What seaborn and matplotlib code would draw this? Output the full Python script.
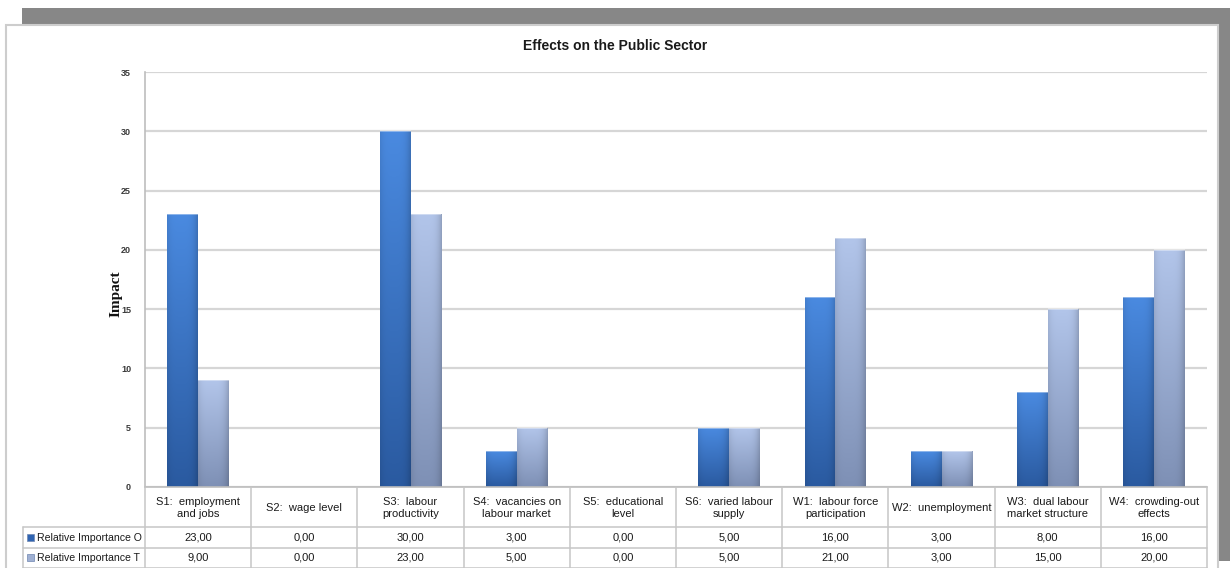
import numpy as np
import pandas as pd
import matplotlib
matplotlib.use("Agg")
import matplotlib.pyplot as plt
from matplotlib.patches import Rectangle
from matplotlib.colors import to_rgb
import seaborn as sns

# ---------------- data ----------------
categories = ["S1", "S2", "S3", "S4", "S5", "S6", "W1", "W2", "W3", "W4"]
category_labels = [
    "S1:  employment\nand jobs",
    "S2:  wage level",
    "S3:  labour\nproductivity",
    "S4:  vacancies on\nlabour market",
    "S5:  educational\nlevel",
    "S6:  varied labour\nsupply",
    "W1:  labour force\nparticipation",
    "W2:  unemployment",
    "W3:  dual labour\nmarket structure",
    "W4:  crowding-out\neffects",
]
series_names = ["Relative Importance O", "Relative Importance T"]
importance_o = [23, 0, 30, 3, 0, 5, 16, 3, 8, 16]
importance_t = [9, 0, 23, 5, 0, 5, 21, 3, 15, 20]
y_ticks = [0, 5, 10, 15, 20, 25, 30, 35]
title = "Effects on the Public Sector"
y_label = "Impact"

df = pd.DataFrame({
    "category": categories * 2,
    "series": [series_names[0]] * len(categories) + [series_names[1]] * len(categories),
    "value": importance_o + importance_t,
})

# ---------------- style ----------------
sns.set_theme(style="white")
FONT = ["Liberation Sans Narrow", "Liberation Sans", "DejaVu Sans"]
plt.rcParams["font.family"] = FONT

W, H = 1230, 568
fig = plt.figure(figsize=(W / 100, H / 100), dpi=100)
fig.patch.set_facecolor("white")

# background frame
bg = fig.add_axes([0, 0, 1, 1], zorder=0)
bg.set_xlim(0, W); bg.set_ylim(H, 0); bg.axis("off")
bg.add_patch(Rectangle((22, 8), W - 22, 17, fc="#878787", ec="none"))
bg.add_patch(Rectangle((1218, 8), 12, 553, fc="#878787", ec="none"))
bg.add_patch(Rectangle((6, 25), 1212, 560, fc="white", ec="#cdcdcd", lw=1.5))

# main axes
L, R, T, B = 145, 1207, 72, 487
ax = fig.add_axes([L / W, 1 - B / H, (R - L) / W, (B - T) / H], zorder=1)
pal = ["#3a76c8", "#9aaed6"]
sns.barplot(data=df, x="category", y="value", hue="series", order=categories,
            hue_order=series_names, palette=pal, saturation=1, width=0.58,
            edgecolor="none", legend=False, ax=ax, errorbar=None)

grads = [(to_rgb("#4a8ae0"), to_rgb("#2a5aa0")),
         (to_rgb("#b2c5ea"), to_rgb("#7e90b5"))]


def make_grad(top, bottom, n=128, m=48):
    t = np.linspace(0, 1, n)[:, None, None]
    col = np.array(top)[None, None, :] * (1 - t) + np.array(bottom)[None, None, :] * t
    u = np.linspace(0, 1, m)
    f = 1 - 0.18 * (np.abs(u - 0.45) / 0.55) ** 4
    img = col * f[None, :, None]
    return np.clip(img, 0, 1)


for cont, (gt, gb) in zip(ax.containers, grads):
    for bar in cont:
        h = bar.get_height()
        if h <= 0:
            continue
        x0, w = bar.get_x(), bar.get_width()
        im = ax.imshow(make_grad(gt, gb), extent=[x0, x0 + w, 0, h], aspect="auto",
                       origin="upper", zorder=bar.get_zorder() + 0.1, interpolation="bilinear")
        im.set_clip_path(bar)
        ax.plot([x0, x0 + w], [h, h], color="white", alpha=0.45, lw=1.2,
                zorder=bar.get_zorder() + 0.2, solid_capstyle="butt")

ax.set_xlim(-0.5, len(categories) - 0.5)
ax.set_ylim(0, 35)
ax.set_yticks(y_ticks)
ax.set_yticklabels([str(v) for v in y_ticks])
ax.tick_params(axis="y", length=0, pad=10, labelsize=6.5, labelcolor="#3a3a3a")
for lab in ax.get_yticklabels():
    lab.set_fontweight("bold")
ax.tick_params(axis="x", bottom=False, labelbottom=False)
ax.set_xlabel("")
ax.set_ylabel("")
ax.yaxis.grid(True, color="#d6d6d6", lw=1.6)
ax.set_axisbelow(True)
for s in ["top", "right"]:
    ax.spines[s].set_visible(False)
for s in ["left", "bottom"]:
    ax.spines[s].set_color("#bdbdbd")
    ax.spines[s].set_linewidth(1.2)

# title and y label
fig.text(615 / W, 1 - 46 / H, title, ha="center", va="center", fontsize=10,
         fontweight="bold", color="#1a1a1a")
fig.text(116 / W, 1 - 294 / H, y_label, ha="center", va="center", rotation=90,
         fontsize=11, fontweight="bold", family=["Liberation Serif", "DejaVu Serif"],
         color="#111111")

# data table overlay
ov = fig.add_axes([0, 0, 1, 1], zorder=3)
ov.set_xlim(0, W); ov.set_ylim(H, 0); ov.axis("off"); ov.patch.set_alpha(0)
lc = "#c6c6c6"
cw = (R - L) / len(categories)
for yy in (527, 548, 568):
    ov.plot([23, R], [yy, yy], color=lc, lw=1.1)
for i in range(len(categories) + 1):
    ov.plot([L + i * cw, L + i * cw], [B, 568], color=lc, lw=1.1)
ov.plot([23, 23], [527, 568], color=lc, lw=1.1)

for i, lab in enumerate(category_labels):
    ov.text(L + (i + 0.5) * cw, 508, lab, ha="center", va="center", fontsize=8,
            linespacing=1.3, color="#1a1a1a")

row_y = [538, 558]
marker_cols = ["#2f64b2", "#9fb0d3"]
for vals, yy, name, mc in zip([importance_o, importance_t], row_y, series_names, marker_cols):
    ov.add_patch(Rectangle((27, yy - 4), 7, 7, fc=mc, ec="#6f86b0", lw=0.5))
    ov.text(37, yy, name, ha="left", va="center", fontsize=7.6, color="#1a1a1a")
    for i, v in enumerate(vals):
        ov.text(L + (i + 0.5) * cw, yy, f"{v:.2f}".replace(".", ","), ha="center",
                va="center", fontsize=8, color="#1a1a1a")

fig.savefig("out.png", dpi=100)
